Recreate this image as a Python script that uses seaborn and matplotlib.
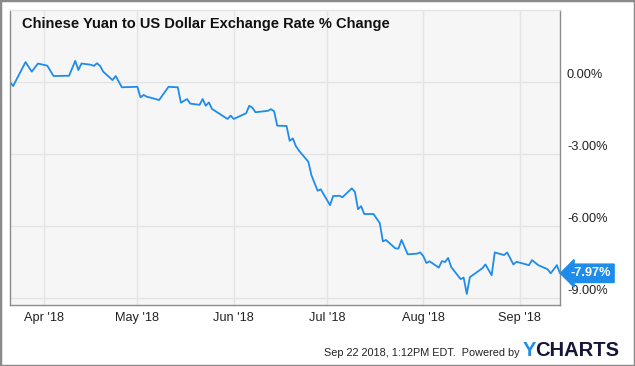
import pandas as pd
import numpy as np
import matplotlib
matplotlib.use("Agg")
import matplotlib.pyplot as plt
import matplotlib.dates as mdates
from matplotlib.transforms import ScaledTranslation
from matplotlib.patches import Rectangle
import seaborn as sns

# ===== 数据 =====
dates = [
    "2018-03-21", "2018-03-22", "2018-03-26", "2018-03-28", "2018-03-30",
    "2018-04-02", "2018-04-04", "2018-04-09", "2018-04-11", "2018-04-12",
    "2018-04-13", "2018-04-16", "2018-04-17", "2018-04-18", "2018-04-19",
    "2018-04-20", "2018-04-23", "2018-04-24", "2018-04-26", "2018-05-01",
    "2018-05-02", "2018-05-03", "2018-05-04", "2018-05-08", "2018-05-11",
    "2018-05-14", "2018-05-15", "2018-05-17", "2018-05-18", "2018-05-21",
    "2018-05-22", "2018-05-23", "2018-05-24", "2018-05-25", "2018-05-30",
    "2018-05-31", "2018-06-01", "2018-06-05", "2018-06-06", "2018-06-07",
    "2018-06-08", "2018-06-12", "2018-06-13", "2018-06-14", "2018-06-15",
    "2018-06-18", "2018-06-19", "2018-06-20", "2018-06-21", "2018-06-22",
    "2018-06-25", "2018-06-26", "2018-06-28", "2018-06-29", "2018-07-02",
    "2018-07-03", "2018-07-05", "2018-07-06", "2018-07-09", "2018-07-10",
    "2018-07-11", "2018-07-12", "2018-07-13", "2018-07-16", "2018-07-18",
    "2018-07-19", "2018-07-20", "2018-07-23", "2018-07-24", "2018-07-25",
    "2018-07-27", "2018-07-30", "2018-07-31", "2018-08-01", "2018-08-02",
    "2018-08-03", "2018-08-06", "2018-08-07", "2018-08-08", "2018-08-09",
    "2018-08-10", "2018-08-13", "2018-08-14", "2018-08-15", "2018-08-16",
    "2018-08-20", "2018-08-21", "2018-08-23", "2018-08-24", "2018-08-27",
    "2018-08-28", "2018-08-30", "2018-08-31", "2018-09-04", "2018-09-05",
    "2018-09-07", "2018-09-10", "2018-09-11", "2018-09-13", "2018-09-14",
]
pct_change = [
    0.00, -0.17, 0.83, 0.43, 0.77,
    0.68, 0.25, 0.26, 0.88, 0.50,
    0.77, 0.72, 0.67, 0.78, 0.67,
    0.43, 0.08, 0.25, -0.22, -0.20,
    -0.64, -0.54, -0.61, -0.75, -0.20,
    -0.22, -0.86, -0.71, -0.90, -0.95,
    -0.71, -0.99, -0.85, -1.12, -1.54,
    -1.40, -1.54, -1.30, -0.99, -1.07,
    -1.26, -1.20, -1.13, -1.22, -1.82,
    -1.83, -2.45, -2.35, -2.67, -2.86,
    -3.32, -3.88, -4.53, -4.47, -5.13,
    -4.75, -4.74, -4.80, -4.43, -4.58,
    -5.30, -5.17, -5.50, -5.50, -5.88,
    -6.64, -6.58, -6.93, -6.94, -6.58,
    -7.18, -7.15, -7.10, -7.25, -7.54,
    -7.47, -7.73, -7.46, -7.50, -7.33,
    -7.71, -8.21, -8.15, -8.83, -8.13,
    -7.76, -7.60, -8.05, -7.10, -7.21,
    -7.10, -7.60, -7.49, -7.63, -7.42,
    -7.63, -7.80, -7.97, -7.63, -7.97,
]
y_ticks = [0, -3, -6, -9]
title = "Chinese Yuan to US Dollar Exchange Rate % Change"
footer = "Sep 22 2018, 1:12PM EDT.  Powered by"

df = pd.DataFrame({"date": pd.to_datetime(dates), "pct": pct_change})

# ===== 样式 =====
sns.set_theme(style="white")
plt.rcParams["font.family"] = ["Liberation Sans", "DejaVu Sans"]

BLUE = "#1e8ceb"
GRID = "#e4e4e4"
SPINE = "#8c8c8c"

W, H = 635, 366
fig = plt.figure(figsize=(W / 100, H / 100), dpi=100)
fig.patch.set_facecolor("white")
ax = fig.add_axes([10 / W, 61 / H, 550 / W, 295 / H])
ax.set_facecolor("#f6f6f6")

sns.lineplot(data=df, x="date", y="pct", ax=ax, color=BLUE, linewidth=1.3)

ax.set_xlim(df["date"].min(), df["date"].max())
ax.set_ylim(-9.29, 3.0)
ax.set_xlabel("")
ax.set_ylabel("")

# 网格和刻度
ax.xaxis.set_major_locator(mdates.MonthLocator())
ax.xaxis.set_major_formatter(mdates.DateFormatter("%b '%y"))
ax.set_yticks(y_ticks)
ax.set_yticklabels([f"{v:.2f}%" for v in y_ticks])
ax.grid(True, color=GRID, linewidth=1)
ax.yaxis.tick_right()
ax.tick_params(axis="both", length=0, labelsize=9.2, colors="#222222")
ax.tick_params(axis="x", pad=5)
ax.tick_params(axis="y", pad=5)
for lab in ax.get_yticklabels():
    lab.set_transform(lab.get_transform() + ScaledTranslation(0, 0.09, fig.dpi_scale_trans))

for side in ["left", "bottom", "right"]:
    ax.spines[side].set_color(SPINE)
    ax.spines[side].set_linewidth(1)
ax.spines["top"].set_color(GRID)
ax.spines["top"].set_linewidth(1)

# 标题
ax.text(12 / 550, 1 - 18 / 295, title, transform=ax.transAxes, fontsize=10.5,
        fontweight="bold", color="#111111", va="baseline", ha="left")

# 末值标签
last = df["pct"].iloc[-1]
ax.annotate(f"{last:.2f}%", xy=(1.0, last), xycoords=("axes fraction", "data"),
            xytext=(7.5, 0), textcoords="offset points", ha="left", va="center",
            color="white", fontsize=9.2, fontweight="bold", annotation_clip=False,
            bbox=dict(boxstyle="larrow,pad=0.25", fc=BLUE, ec=BLUE))

# 页脚
fig.text(520 / W, 1 - 353 / H, footer, ha="right", va="center", fontsize=7.8, color="#222222")
fig.text(523 / W, 1 - 351 / H, "Y", ha="left", va="center", fontsize=14.5,
         fontweight="heavy", color=BLUE)
fig.text(535 / W, 1 - 351 / H, "CHARTS", ha="left", va="center", fontsize=14.5,
         fontweight="heavy", color="#15173a")

# 外框
fig.add_artist(Rectangle((0, 0), 1, 1, transform=fig.transFigure, fill=False,
                         edgecolor="#8a8a8a", linewidth=2.5))

fig.savefig("out.png", dpi=100)
